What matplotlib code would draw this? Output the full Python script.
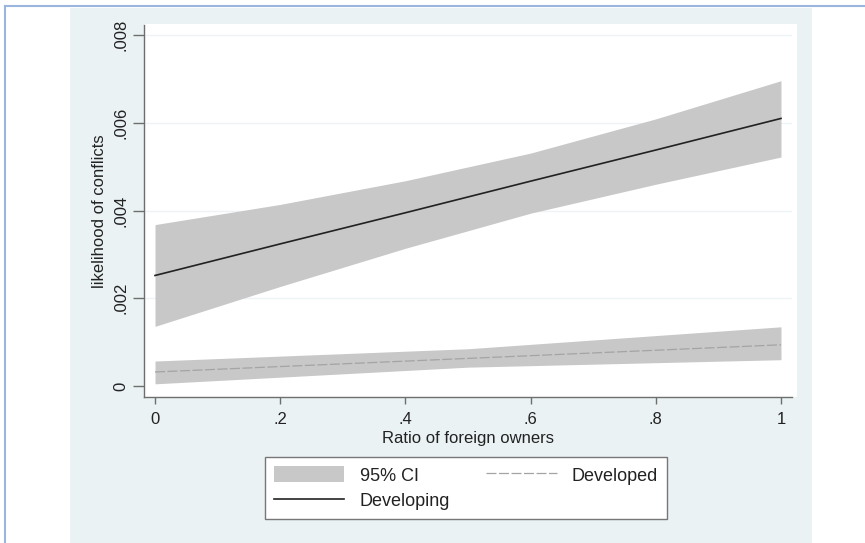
import matplotlib
matplotlib.use("Agg")
import matplotlib.pyplot as plt
from matplotlib.patches import Rectangle
from matplotlib.lines import Line2D
import numpy as np

plt.rcParams['font.family'] = ['Liberation Sans', 'DejaVu Sans']

# data
ratio = [0.0, 0.2, 0.4, 0.6, 0.8, 1.0]
developing = [0.00252, 0.00324, 0.00395, 0.00467, 0.00538, 0.00610]
developing_hi = [0.00368, 0.00414, 0.00468, 0.00531, 0.00609, 0.00696]
developing_lo = [0.00136, 0.00227, 0.00314, 0.00394, 0.00460, 0.00522]

ratio_dev = [0.0, 0.5, 1.0]
developed = [0.00032, 0.00063, 0.00094]
developed_hi = [0.00057, 0.00085, 0.00135]
developed_lo = [0.00005, 0.00043, 0.00060]

xticks = [0, 0.2, 0.4, 0.6, 0.8, 1.0]
xticklabels = ["0", ".2", ".4", ".6", ".8", "1"]
yticks = [0, 0.002, 0.004, 0.006, 0.008]
yticklabels = ["0", ".002", ".004", ".006", ".008"]

W, H = 865, 543
fig = plt.figure(figsize=(W / 100, H / 100), dpi=100)
fig.patch.set_facecolor("white")

# graph region background and outer border
bg = Rectangle((70 / W, 0), (812 - 70) / W, 1 - 8 / H,
               transform=fig.transFigure, facecolor="#eaf2f3",
               edgecolor="none", zorder=-10)
fig.patches.append(bg)
# white plot region (slightly wider than the axis lines)
pr = Rectangle((144 / W, 1 - 397 / H), (797 - 144) / W, (397 - 24) / H,
               transform=fig.transFigure, facecolor="white",
               edgecolor="none", zorder=-9)
fig.patches.append(pr)
fig.lines.append(Line2D([5 / W, 1], [1 - 6 / H, 1 - 6 / H], transform=fig.transFigure,
                        color="#9ab6df", lw=1.5, zorder=-5))
fig.lines.append(Line2D([5 / W, 5 / W], [0, 1 - 6 / H], transform=fig.transFigure,
                        color="#9ab6df", lw=1.5, zorder=-5))

ax = fig.add_axes([144 / W, 1 - 397 / H, (792 - 144) / W, (397 - 25) / H])
ax.set_zorder(1)
ax.set_facecolor("none")
ax.set_xlim(-0.0176, 1.0176)
ax.set_ylim(-0.00025, 0.00823)

for yt in yticks[1:]:
    ax.axhline(yt, color="#eef3f5", lw=1.0, zorder=0)

ci_col = "#c8c8c8"
ax.fill_between(ratio, developing_lo, developing_hi, color=ci_col, lw=0, zorder=1)
ax.fill_between(ratio_dev, developed_lo, developed_hi, color=ci_col, lw=0, zorder=1)
ax.plot(ratio, developing, color="#222222", lw=1.2, zorder=3)
ax.plot(ratio_dev, developed, color="#a4a4a4", lw=0.9, dashes=(8, 2), zorder=3)

for s in ["top", "right"]:
    ax.spines[s].set_visible(False)
for s in ["left", "bottom"]:
    ax.spines[s].set_color("#6e6e6e")
    ax.spines[s].set_linewidth(1.0)

ax.set_xticks(xticks)
ax.set_xticklabels(xticklabels)
ax.set_yticks(yticks)
ax.set_yticklabels(yticklabels, rotation=90, va="center")
ax.tick_params(axis="both", direction="out", width=1.0, color="#6e6e6e",
               labelsize=12, labelcolor="#222222")
ax.tick_params(axis="x", length=5, pad=6)
ax.tick_params(axis="y", length=8, pad=3.5)

ax.set_xlabel("Ratio of foreign owners", fontsize=12, color="#222222", labelpad=3)
ax.set_ylabel("likelihood of conflicts", fontsize=12, color="#222222", labelpad=4.3)

h_ci = Rectangle((0, 0), 1, 1, facecolor=ci_col, edgecolor="none")
h_dev = Line2D([], [], color="#222222", lw=1.2)
h_dvd = Line2D([], [], color="#a4a4a4", lw=0.9, dashes=(8, 2))
leg = fig.legend([h_ci, h_dev, h_dvd], ["95% CI", "Developing", "Developed"],
                 ncol=2, loc="center", bbox_to_anchor=(466 / W, 1 - 488 / H),
                 fontsize=13, frameon=True, fancybox=False, handlelength=3.9,
                 handleheight=1.0, columnspacing=2.0, handletextpad=0.85,
                 borderpad=0.5, labelspacing=0.38, borderaxespad=0)
leg.get_frame().set_edgecolor("#777777")
leg.get_frame().set_linewidth(1.0)
leg.get_frame().set_facecolor("white")
leg.get_frame().set_alpha(1.0)
for t in leg.get_texts():
    t.set_color("#222222")

fig.savefig("out.png", dpi=100)
